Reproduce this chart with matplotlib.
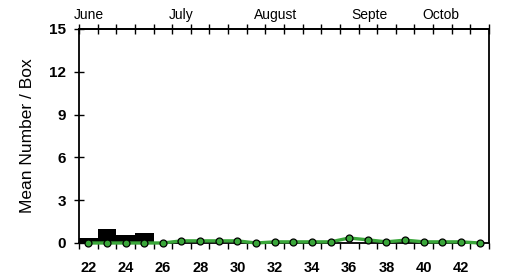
import matplotlib.pyplot as plt
import numpy as np

plt.rcParams['font.family'] = ['Liberation Sans', 'DejaVu Sans']

# weekly data
bar_weeks = [22, 23, 24, 25]
bar_vals = [0.35, 0.95, 0.58, 0.7]

line_weeks = list(range(22, 44))
line_vals = [0, 0, 0, 0, 0, 0.15, 0.15, 0.15, 0.15, 0, 0.08, 0.08, 0.08, 0.08,
             0.35, 0.22, 0.08, 0.2, 0.08, 0.08, 0.08, 0]

month_names = ['June', 'July', 'August', 'Septe', 'Octob']
month_pos = [22.05, 27.0, 32.05, 37.1, 40.9]

fig = plt.figure(figsize=(5.12, 2.76), dpi=100)
ax = fig.add_axes([0.1543, 0.1196, 0.8007, 0.7754])

ax.bar(bar_weeks, bar_vals, width=1.0, color='black', zorder=2)
ax.plot(line_weeks, line_vals, color='#3aa63a', lw=2.4, zorder=3,
        marker='o', ms=5, mfc='#3aa63a', mec='black', mew=0.9, clip_on=False)

ax.set_xlim(21.5, 43.5)
ax.set_ylim(0, 15)

ax.set_yticks([0, 3, 6, 9, 12, 15])
ax.set_xticks(range(22, 43, 2))
ax.set_xticks(np.arange(21.5, 44, 1.0), minor=True)
ax.tick_params(axis='x', which='major', length=0, pad=13, labelsize=10.5)
ax.tick_params(axis='x', which='minor', direction='out', length=4.5, width=1,
               bottom=True, top=False)
ax.tick_params(axis='y', which='major', direction='inout', length=7, width=1,
               pad=6, labelsize=11)
for lab in ax.get_xticklabels() + ax.get_yticklabels():
    lab.set_fontweight('bold')

# top ticks cross the spine
top_ax = ax.secondary_xaxis('top')
top_ax.set_xticks(np.arange(21.5, 44, 1.0))
top_ax.set_xticklabels([])
top_ax.tick_params(direction='inout', length=7, width=1)
top_ax.spines['top'].set_linewidth(1.3)

for s in ax.spines.values():
    s.set_linewidth(1.3)

for name, pos in zip(month_names, month_pos):
    ax.text(pos, 1.045, name, transform=ax.get_xaxis_transform(),
            ha='center', va='baseline', fontsize=10)

ax.set_ylabel('Mean Number / Box', fontsize=12.5, labelpad=10)

plt.savefig('out.png', dpi=100)
